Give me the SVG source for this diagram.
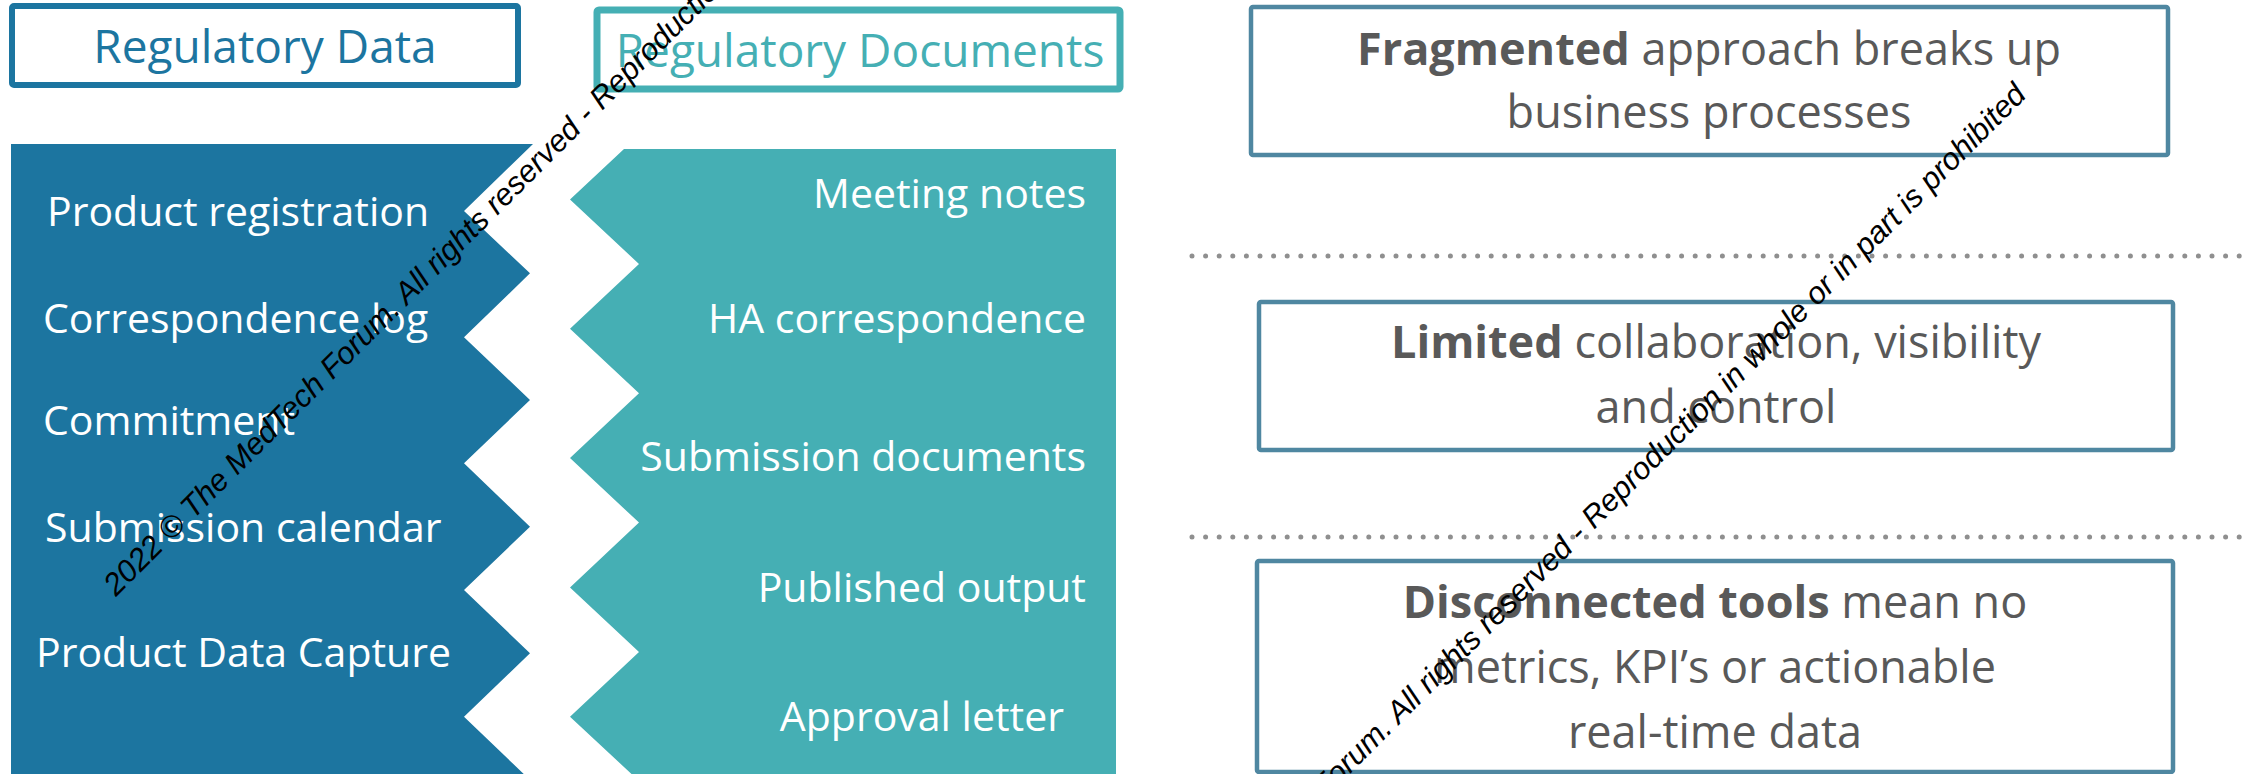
<svg xmlns="http://www.w3.org/2000/svg" width="2250" height="774" viewBox="0 0 2250 774">
<style>
.hdr{font-family:"Open Sans","Noto Sans",sans-serif;font-size:46px;text-anchor:middle}
.item{font-family:"Open Sans","Noto Sans",sans-serif;font-size:41px;fill:#ffffff}
.itemR{font-family:"Open Sans","Noto Sans",sans-serif;font-size:41px;fill:#ffffff;text-anchor:end}
.box{fill:#ffffff;stroke:#4f87a1;stroke-width:4.5}
.btxt{font-family:"Open Sans","Noto Sans",sans-serif;font-size:45px;fill:#595959;text-anchor:middle}
.b{font-weight:bold}
.dots{stroke:#8f8f8f;stroke-width:5;stroke-linecap:round;stroke-dasharray:0 13.6;fill:none}
.wm{font-family:"Liberation Sans",Arial,sans-serif;font-style:italic;font-size:31px;fill:#000000}
</style>
<rect x="0" y="0" width="2250" height="774" fill="#ffffff"/>

<g id="node-regulatory-data">
<rect x="12" y="6" width="506" height="79" rx="2" fill="#ffffff" stroke="#1c75a0" stroke-width="6"/>
<text class="hdr" x="265" y="63" fill="#1c75a0">Regulatory Data</text>
</g>

<g id="node-regulatory-documents">
<rect x="597" y="10" width="523" height="79" rx="2" fill="#ffffff" stroke="#45afb4" stroke-width="7"/>
<text class="hdr" x="860" y="67" fill="#45afb4">Regulatory Documents</text>
</g>

<g id="node-data-panel">
<polygon fill="#1c75a0" points="11,144 533,144 464,211 530,273.3 464,337.3 530,400 464,463.3 530,526.7 464,590 530,653.3 464,716.7 530,780 11,780"/>
<text class="item" x="47" y="226">Product registration</text>
<text class="item" x="43" y="333">Correspondence log</text>
<text class="item" x="43" y="435">Commitment</text>
<text class="item" x="45" y="542">Submission calendar</text>
<text class="item" x="36" y="667">Product Data Capture</text>
</g>

<g id="node-documents-panel">
<polygon fill="#45afb4" points="624,149 1116,149 1116,781 639,781 570,716.7 639,651.9 570,587.4 639,522.6 570,458.1 639,393.3 570,328.8 639,264 570,199.5"/>
<text class="itemR" x="1086" y="208">Meeting notes</text>
<text class="itemR" x="1086" y="333">HA correspondence</text>
<text class="itemR" x="1086" y="471">Submission documents</text>
<text class="itemR" x="1086" y="602">Published output</text>
<text class="itemR" x="1064" y="731">Approval letter</text>
</g>

<g id="node-fragmented">
<rect class="box" x="1251" y="7" width="917" height="148" rx="2"/>
<text class="btxt" x="1709" y="65"><tspan class="b">Fragmented</tspan> approach breaks up</text>
<text class="btxt" x="1709" y="128">business processes</text>
</g>

<g id="node-limited">
<rect class="box" x="1259" y="302" width="914" height="148" rx="2"/>
<text class="btxt" x="1716" y="358"><tspan class="b">Limited</tspan> collaboration, visibility</text>
<text class="btxt" x="1716" y="423">and control</text>
</g>

<g id="node-disconnected">
<rect class="box" x="1257" y="561" width="916" height="211" rx="2"/>
<text class="btxt" x="1715" y="618"><tspan class="b">Disconnected tools</tspan> mean no</text>
<text class="btxt" x="1715" y="683">metrics, KPI’s or actionable</text>
<text class="btxt" x="1715" y="748">real-time data</text>
</g>

<g id="connectors">
<line class="dots" x1="1192" y1="256" x2="2250" y2="256"/>
<line class="dots" x1="1192" y1="537" x2="2250" y2="537"/>
</g>

<g id="watermark">
<text class="wm" transform="translate(116,597) rotate(-45)">2022 © The MedTech Forum. All rights reserved - Reproduction in whole or in part is prohibited</text>
<text class="wm" transform="translate(1108,1016) rotate(-45)">2022 © The MedTech Forum. All rights reserved - Reproduction in whole or in part is prohibited</text>
</g>
</svg>
